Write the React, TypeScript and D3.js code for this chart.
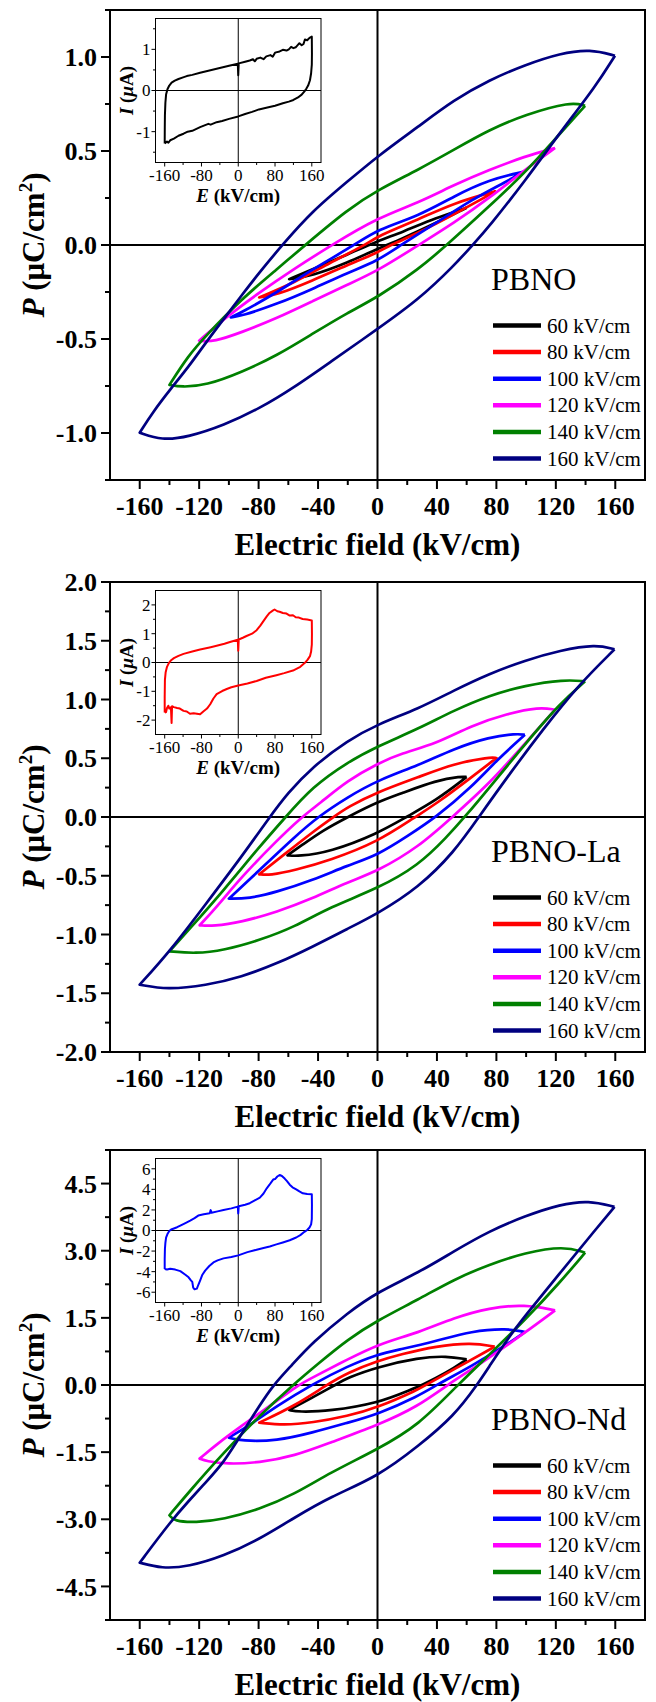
import React from 'react';
import * as d3 from 'd3';

type Pt = [number, number];

// ---------- shared labels / colours ----------
const FIELD_LABELS = ['60 kV/cm', '80 kV/cm', '100 kV/cm', '120 kV/cm', '140 kV/cm', '160 kV/cm'];
const SERIES_COLORS = ['#000000', '#FF0000', '#0000FF', '#FF00FF', '#008000', '#000080'];
const X_TICKS = [-160, -120, -80, -40, 0, 40, 80, 120, 160];
const X_MINOR = [-140, -100, -60, -20, 20, 60, 100, 140];
const INSET_X_TICKS = [-160, -80, 0, 80, 160];
const INSET_X_MINOR = [-120, -40, 40, 120];
const SAMPLE_NAMES = ['PBNO', 'PBNO-La', 'PBNO-Nd'];

// ---------- PBNO P-E loops (E kV/cm, P uC/cm2) ----------
const PBNO_60: Pt[] = [[60, 0.198], [39.6, 0.145], [15.7, 0.065], [0, 0.021], [-20, -0.05], [-43.9, -0.129], [-59.4, -0.182],
  [-43.9, -0.164], [-20, -0.094], [0, -0.02], [15.7, 0.03], [39.6, 0.118], [60, 0.198]];
const PBNO_80: Pt[] = [[79.6, 0.286], [51.5, 0.224], [27.7, 0.136], [0, 0.048], [-8, 0], [-32, -0.094], [-55.8, -0.2], [-79.6, -0.279],
  [-67.7, -0.265], [-43.9, -0.19], [-20, -0.105], [0, -0.041], [8.6, 0], [27.7, 0.065], [51.5, 0.163], [79.6, 0.286]];
const PBNO_100: Pt[] = [[98, 0.389], [75.3, 0.348], [51.5, 0.26], [27.7, 0.154], [0, 0.083], [-15.3, 0], [-43.9, -0.129], [-67.7, -0.253], [-91.6, -0.359], [-98.7, -0.385],
  [-91.6, -0.378], [-67.7, -0.314], [-43.9, -0.235], [-20, -0.147], [0, -0.085], [15.7, 0], [39.6, 0.118], [63.4, 0.242], [87.3, 0.339], [98, 0.389]];
const PBNO_120: Pt[] = [[119.5, 0.516], [99.2, 0.472], [75.3, 0.4], [51.5, 0.32], [27.7, 0.225], [0, 0.145], [-30.8, 0], [-55.8, -0.125], [-79.6, -0.253], [-103.5, -0.394], [-120, -0.509],
  [-110, -0.515], [-91.6, -0.465], [-67.7, -0.39], [-43.9, -0.3], [-20, -0.21], [0, -0.138], [27.7, 0], [51.5, 0.118], [75.3, 0.25], [99.2, 0.4], [119.5, 0.516]];
const PBNO_140: Pt[] = [[139.7, 0.74], [130.2, 0.763], [99.2, 0.693], [75.3, 0.613], [51.5, 0.507], [27.7, 0.401], [0, 0.292], [-20, 0.189], [-48.6, 0], [-67.7, -0.129], [-91.6, -0.288], [-115.4, -0.482], [-127.3, -0.588], [-140, -0.744],
  [-132, -0.756], [-115.4, -0.747], [-91.6, -0.677], [-67.7, -0.588], [-43.9, -0.473], [-20, -0.359], [0, -0.279], [27.7, -0.129], [46.7, 0], [75.3, 0.207], [99.2, 0.383], [123, 0.595], [139.7, 0.74]];
const PBNO_160: Pt[] = [[159.8, 1.007], [143.3, 1.042], [123, 1.02], [99.2, 0.958], [75.3, 0.878], [51.5, 0.772], [27.7, 0.631], [0, 0.472], [-20, 0.339], [-43.9, 0.18], [-64.1, 0], [-79.6, -0.147], [-91.6, -0.27], [-103.5, -0.394], [-115.4, -0.518], [-127.3, -0.65], [-139.2, -0.765], [-151.2, -0.889], [-160, -0.998],
  [-145.2, -1.039], [-127.3, -1.021], [-103.5, -0.959], [-79.6, -0.871], [-55.8, -0.756], [-32, -0.624], [0, -0.447], [27.7, -0.29], [51.5, -0.11], [64, 0], [75.3, 0.1], [99.2, 0.34], [123, 0.6], [146.9, 0.845], [159.8, 1.007]];

// ---------- PBNO-La loops ----------
const LA_60: Pt[] = [[60, 0.34], [56.3, 0.346], [39.6, 0.312], [15.7, 0.199], [0, 0.128], [-20, 0], [-36.7, -0.113], [-51, -0.241], [-60.6, -0.326],
  [-53.4, -0.335], [-32, -0.298], [0, -0.142], [19.3, 0], [39.6, 0.142], [60, 0.34]];
const LA_80: Pt[] = [[80.1, 0.502], [75.3, 0.51], [51.5, 0.454], [27.7, 0.34], [0, 0.213], [-20, 0.085], [-29.6, 0], [-43.9, -0.13], [-62.9, -0.32], [-79.6, -0.488],
  [-72.5, -0.496], [-55.8, -0.454], [-32, -0.369], [0, -0.213], [25.3, 0], [39.6, 0.113], [63.4, 0.34], [80.1, 0.502]];
const LA_100: Pt[] = [[99.2, 0.7], [93.2, 0.709], [75.3, 0.681], [51.5, 0.582], [27.7, 0.44], [0, 0.312], [-20, 0.17], [-40.3, 0], [-55.8, -0.17], [-79.6, -0.454], [-100, -0.695],
  [-86.8, -0.695], [-67.7, -0.638], [-43.9, -0.539], [-20, -0.411], [0, -0.326], [20.5, -0.16], [39.6, 0], [63.4, 0.255], [80.1, 0.482], [99.2, 0.7]];
const LA_120: Pt[] = [[119.5, 0.913], [108.7, 0.936], [87.3, 0.879], [63.4, 0.78], [39.6, 0.624], [15.7, 0.54], [0, 0.454], [-20, 0.312], [-39.1, 0.113], [-51, 0], [-67.7, -0.199], [-91.6, -0.511], [-108.2, -0.766], [-119.7, -0.922],
  [-110.6, -0.93], [-91.6, -0.894], [-67.7, -0.809], [-43.9, -0.695], [-20, -0.553], [0, -0.462], [27.7, -0.255], [50.3, 0], [75.3, 0.284], [99.2, 0.624], [119.5, 0.913]];
const LA_140: Pt[] = [[139.7, 1.155], [125.4, 1.17], [99.2, 1.12], [75.3, 1.035], [51.5, 0.908], [27.7, 0.752], [0, 0.601], [-20, 0.468], [-43.9, 0.255], [-61.8, 0], [-79.6, -0.255], [-103.5, -0.624], [-127.3, -0.965], [-140, -1.143],
  [-122.6, -1.163], [-103.5, -1.135], [-79.6, -1.05], [-55.8, -0.936], [-32, -0.766], [0, -0.61], [27.7, -0.411], [46.7, -0.17], [58.7, 0], [75.3, 0.25], [99.2, 0.62], [123, 0.97], [139.7, 1.155]];
const LA_160: Pt[] = [[159.5, 1.427], [146.9, 1.47], [123, 1.418], [99.2, 1.333], [75.3, 1.22], [51.5, 1.078], [27.7, 0.922], [0, 0.789], [-20, 0.652], [-43.9, 0.426], [-60.6, 0.2], [-72.5, 0], [-91.6, -0.34], [-115.4, -0.738], [-139.2, -1.135], [-160, -1.427],
  [-141.6, -1.47], [-115.4, -1.433], [-91.6, -1.362], [-67.7, -1.248], [-43.9, -1.106], [-20, -0.95], [0, -0.823], [27.7, -0.6], [51.5, -0.3], [68.2, 0], [87.3, 0.34], [111, 0.74], [135, 1.12], [159.5, 1.427]];

// ---------- PBNO-Nd loops ----------
const ND_60: Pt[] = [[60, 0.573], [46.7, 0.648], [27.7, 0.611], [0, 0.402], [-20, 0.164], [-28.4, 0], [-43.9, -0.283], [-59.4, -0.558],
  [-53.4, -0.603], [-32, -0.581], [0, -0.41], [22.9, -0.097], [30, 0], [46.7, 0.276], [60, 0.573]];
const ND_80: Pt[] = [[78.9, 0.856], [63.4, 0.946], [39.6, 0.871], [15.7, 0.685], [0, 0.536], [-20, 0.276], [-34.3, 0], [-55.8, -0.469], [-79.6, -0.841],
  [-62.9, -0.9], [-43.9, -0.841], [-20, -0.692], [0, -0.506], [27.7, -0.097], [32.4, 0], [51.5, 0.35], [78.9, 0.856]];
const ND_100: Pt[] = [[99.2, 1.184], [87.3, 1.266], [63.4, 1.206], [39.6, 0.983], [15.7, 0.797], [0, 0.685], [-20, 0.424], [-43.9, 0.015], [-67.7, -0.469], [-86.8, -0.916], [-100, -1.176],
  [-91.6, -1.25], [-67.7, -1.25], [-43.9, -1.065], [-20, -0.841], [0, -0.655], [27.7, -0.246], [39.6, 0], [63.4, 0.424], [87.3, 0.908], [99.2, 1.184]];
const ND_120: Pt[] = [[119.5, 1.668], [99.2, 1.8], [75.3, 1.727], [51.5, 1.504], [27.7, 1.169], [0, 0.908], [-20, 0.573], [-43.9, 0.164], [-53.4, 0], [-72.5, -0.469], [-91.6, -0.916], [-108.2, -1.325], [-119.7, -1.645],
  [-115.4, -1.7], [-101.1, -1.77], [-79.6, -1.735], [-55.8, -1.586], [-32, -1.288], [0, -0.9], [27.7, -0.469], [46.7, 0], [70.6, 0.5], [99.2, 1.169], [119.5, 1.668]];
const ND_140: Pt[] = [[139.7, 2.956], [125.4, 3.105], [99.2, 2.956], [75.3, 2.695], [51.5, 2.36], [27.7, 1.914], [0, 1.445], [-20, 1.02], [-39.1, 0.5], [-57, 0], [-79.6, -0.69], [-103.5, -1.51], [-127.3, -2.405], [-140, -2.91],
  [-136.9, -3.04], [-122.6, -3.075], [-103.5, -3.0], [-79.6, -2.78], [-55.8, -2.44], [-32, -1.96], [0, -1.437], [27.7, -0.9], [53.9, 0], [75.3, 0.68], [99.2, 1.45], [123, 2.3], [139.7, 2.956]];
const ND_160: Pt[] = [[159.5, 3.98], [142.1, 4.125], [123, 4.036], [99.2, 3.775], [75.3, 3.44], [51.5, 2.99], [27.7, 2.51], [0, 2.077], [-20, 1.616], [-43.9, 0.946], [-58.2, 0.424], [-70.1, 0], [-79.6, -0.469], [-91.6, -1.1], [-103.5, -1.735], [-115.4, -2.17], [-127.3, -2.6], [-139.2, -3.05], [-160, -3.97],
  [-145.2, -4.1], [-127.3, -4.06], [-103.5, -3.82], [-79.6, -3.45], [-55.8, -2.96], [-32, -2.5], [0, -2.05], [27.7, -1.36], [51.5, -0.69], [67, 0], [75.3, 0.42], [87.3, 1.02], [99.2, 1.54], [123, 2.51], [146.9, 3.48], [159.5, 3.98]];

// ---------- inset I-E loops (E kV/cm, I uA) ----------
const PBNO_IE: Pt[] = [[-160, -1.29], [-159.8, -0.9], [-159.5, -0.6], [-158.5, -0.3], [-157, -0.1], [-154, 0.03], [-150, 0.12], [-145, 0.19], [-138, 0.24], [-130, 0.28], [-120, 0.32], [-112, 0.35], [-100, 0.38], [-83, 0.43], [-65, 0.48], [-47, 0.53], [-20, 0.6], [-1, 0.65], [0, 0.37], [1, 0.66],
  [15, 0.7], [25, 0.73], [32, 0.76], [36, 0.71], [40, 0.77], [48, 0.8], [55, 0.76], [61, 0.83], [70, 0.86], [75, 0.82], [80, 0.92], [90, 0.95], [97, 0.99], [105, 0.97], [110, 1.0], [115, 1.06], [120, 1.03], [125, 1.05], [133, 1.15], [138, 1.1], [142, 1.13], [145, 1.24], [150, 1.22], [155, 1.28], [160, 1.31],
  [160.3, 0.9], [160, 0.63], [158.5, 0.42], [156, 0.25], [152, 0.12], [148, 0.04], [144, -0.02], [138, -0.1], [130, -0.17], [120, -0.23], [110, -0.27], [97, -0.31], [80, -0.37], [61, -0.42], [45, -0.46], [30, -0.52], [15, -0.57], [0, -0.63], [-20, -0.69], [-35, -0.74], [-47, -0.77], [-60, -0.83], [-65, -0.81], [-83, -0.89], [-100, -0.98], [-110, -1.0], [-119, -1.05], [-130, -1.1], [-140, -1.17], [-148, -1.21], [-152, -1.27], [-155, -1.24], [-160, -1.29]];
const LA_IE: Pt[] = [[-160, -1.74], [-160, -1.2], [-159.5, -0.6], [-158, -0.35], [-155, -0.15], [-151, -0.02], [-146, 0.08], [-140, 0.15], [-130, 0.23], [-119, 0.3], [-100, 0.38], [-83, 0.45], [-60, 0.53], [-47, 0.58], [-30, 0.65], [-18, 0.71], [-1, 0.79], [0, 0.41], [1, 0.8],
  [10, 0.86], [18, 0.92], [30, 1.0], [40, 1.12], [48, 1.28], [54, 1.42], [62, 1.6], [68, 1.72], [75, 1.8], [79, 1.84], [85, 1.78], [90, 1.76], [97, 1.72], [105, 1.7], [112, 1.63], [119, 1.64], [125, 1.57], [132, 1.56], [140, 1.51], [150, 1.49], [160, 1.46],
  [160.3, 1.0], [160, 0.62], [158.5, 0.38], [156, 0.22], [151, 0.1], [145, -0.01], [135, -0.15], [119, -0.28], [100, -0.37], [83, -0.44], [60, -0.53], [40, -0.64], [20, -0.73], [0, -0.8], [-15, -0.86], [-25, -0.92], [-35, -0.99], [-47, -1.1], [-54, -1.25], [-61, -1.45], [-68, -1.6], [-76, -1.7], [-83, -1.8], [-90, -1.78], [-97, -1.76], [-105, -1.78], [-112, -1.7], [-119, -1.68], [-127, -1.6], [-133, -1.58], [-140, -1.55], [-144, -1.52], [-145, -2.1], [-146.5, -1.55], [-150, -1.6], [-152, -1.5], [-155, -1.58], [-157, -1.72], [-160, -1.74]];
const ND_IE: Pt[] = [[-160, -3.74], [-160, -2.8], [-159.5, -1.8], [-158.5, -1.2], [-157, -0.7], [-154, -0.35], [-150, -0.05], [-146, 0.1], [-140, 0.2], [-133, 0.32], [-126, 0.48], [-115, 0.72], [-104.5, 0.96], [-95, 1.2], [-87, 1.45], [-75, 1.58], [-62, 1.68], [-60, 1.98], [-58, 1.72], [-45, 1.86], [-32, 2.0], [-15, 2.15], [-1, 2.32], [0, 1.65], [1, 2.35],
  [15, 2.5], [25, 2.65], [35, 2.9], [47, 3.2], [55, 3.6], [62, 4.1], [68, 4.45], [72, 4.7], [76, 4.95], [80, 5.0], [85, 5.25], [90, 5.4], [95, 5.3], [101, 5.05], [106, 4.8], [112, 4.45], [118, 4.2], [126, 4.0], [133, 3.8], [140.5, 3.62], [150, 3.55], [160, 3.52],
  [160.3, 2.5], [160, 1.1], [158.5, 0.6], [155, 0.29], [150, 0.05], [144, -0.13], [135, -0.45], [126, -0.68], [112, -0.95], [97, -1.16], [83, -1.35], [68.5, -1.55], [55, -1.7], [40, -1.87], [20, -2.1], [0, -2.42], [-15, -2.58], [-32, -2.71], [-45, -2.9], [-54, -3.1], [-63, -3.45], [-72, -3.9], [-78, -4.3], [-83, -4.87], [-87, -5.3], [-90, -5.65], [-95, -5.72], [-98, -5.55], [-100, -5.0], [-103, -4.85], [-108, -4.55], [-115, -4.3], [-126, -3.95], [-137, -3.8], [-148, -3.72], [-155, -3.8], [-160, -3.74]];

// ---------- y ticks per panel ----------
const PBNO_Y_TICKS = [-1.0, -0.5, 0.0, 0.5, 1.0];
const PBNO_Y_MINOR = [-1.25, -0.75, -0.25, 0.25, 0.75, 1.25];
const LA_Y_TICKS = [-2.0, -1.5, -1.0, -0.5, 0.0, 0.5, 1.0, 1.5, 2.0];
const LA_Y_MINOR = [-1.75, -1.25, -0.75, -0.25, 0.25, 0.75, 1.25, 1.75];
const ND_Y_TICKS = [-4.5, -3.0, -1.5, 0.0, 1.5, 3.0, 4.5];
const ND_Y_MINOR = [-5.25, -3.75, -2.25, -0.75, 0.75, 2.25, 3.75, 5.25];
const PBNO_INSET_Y = [-1, 0, 1];
const PBNO_INSET_MINOR = [-1.5, -0.5, 0.5, 1.5];
const LA_INSET_Y = [-2, -1, 0, 1, 2];
const LA_INSET_MINOR = [-1.5, -0.5, 0.5, 1.5];
const ND_INSET_Y = [-6, -4, -2, 0, 2, 4, 6];
const ND_INSET_MINOR = [-5, -3, -1, 1, 3, 5];

const FONT = "'Liberation Serif','Times New Roman',Times,serif";

interface PanelCfg {
  top: number;
  yDomain: [number, number];
  yTicks: number[];
  yMinor: number[];
  loops: Pt[][];
  name: string;
  inset: Pt[];
  insetColor: string;
  insetDomain: [number, number];
  insetTicks: number[];
  insetMinor: number[];
}

const PANELS: PanelCfg[] = [
  { top: 10, yDomain: [-1.25, 1.25], yTicks: PBNO_Y_TICKS, yMinor: PBNO_Y_MINOR, loops: [PBNO_60, PBNO_80, PBNO_100, PBNO_120, PBNO_140, PBNO_160], name: SAMPLE_NAMES[0], inset: PBNO_IE, insetColor: '#000000', insetDomain: [-1.75, 1.75], insetTicks: PBNO_INSET_Y, insetMinor: PBNO_INSET_MINOR },
  { top: 582, yDomain: [-2, 2], yTicks: LA_Y_TICKS, yMinor: LA_Y_MINOR, loops: [LA_60, LA_80, LA_100, LA_120, LA_140, LA_160], name: SAMPLE_NAMES[1], inset: LA_IE, insetColor: '#FF0000', insetDomain: [-2.5, 2.5], insetTicks: LA_INSET_Y, insetMinor: LA_INSET_MINOR },
  { top: 1150, yDomain: [-5.25, 5.25], yTicks: ND_Y_TICKS, yMinor: ND_Y_MINOR, loops: [ND_60, ND_80, ND_100, ND_120, ND_140, ND_160], name: SAMPLE_NAMES[2], inset: ND_IE, insetColor: '#0000FF', insetDomain: [-7, 7], insetTicks: ND_INSET_Y, insetMinor: ND_INSET_MINOR },
];

const LEFT = 110, RIGHT = 645, PH = 470;
const IN_L = 155.5, IN_R = 321, IN_OFF = 8.5, IN_H = 144;

// repeat the two turning tips so the B-spline passes through them as sharp corners
function withTips(d: Pt[]): Pt[] {
  let k = 0;
  d.forEach((p, i) => { if (p[0] < d[k][0]) k = i; });
  const n = d.length - 1;
  return [d[0], d[0], ...d.slice(0, k), d[k], d[k], ...d.slice(k), d[n], d[n]];
}

function Panel({ cfg }: { cfg: PanelCfg }) {
  const top = cfg.top, bottom = top + PH;
  const x = d3.scaleLinear().domain([-180, 180]).range([LEFT, RIGHT]);
  const y = d3.scaleLinear().domain(cfg.yDomain).range([bottom, top]);
  const line = d3.line<Pt>().x(d => x(d[0])).y(d => y(d[1])).curve(d3.curveBasis);

  const iTop = top + IN_OFF, iBot = iTop + IN_H;
  const ix = d3.scaleLinear().domain([-180, 180]).range([IN_L, IN_R]);
  const iy = d3.scaleLinear().domain(cfg.insetDomain).range([iBot, iTop]);
  const iline = d3.line<Pt>().x(d => ix(d[0])).y(d => iy(d[1])).curve(d3.curveLinear);
  const mid = (top + bottom) / 2;
  const fmt = (v: number) => v.toFixed(1);

  return (
    <g>
      {/* zero lines */}
      <line x1={LEFT} x2={RIGHT} y1={y(0)} y2={y(0)} stroke="#000" strokeWidth={2} />
      <line x1={x(0)} x2={x(0)} y1={top} y2={bottom} stroke="#000" strokeWidth={2} />
      {/* loops */}
      {cfg.loops.map((d, i) => (
        <path key={i} d={line(withTips(d)) || ''} fill="none" stroke={SERIES_COLORS[i]} strokeWidth={2.7} strokeLinejoin="round" />
      ))}
      {/* inset */}
      <rect x={IN_L} y={iTop} width={IN_R - IN_L} height={IN_H} fill="#fff" stroke="none" />
      <line x1={IN_L} x2={IN_R} y1={iy(0)} y2={iy(0)} stroke="#000" strokeWidth={1} />
      <line x1={ix(0)} x2={ix(0)} y1={iTop} y2={iBot} stroke="#000" strokeWidth={1} />
      <path d={iline(cfg.inset) || ''} fill="none" stroke={cfg.insetColor} strokeWidth={2} strokeLinejoin="round" />
      <rect x={IN_L} y={iTop} width={IN_R - IN_L} height={IN_H} fill="none" stroke="#000" strokeWidth={1} />
      {INSET_X_TICKS.map(t => (
        <g key={'ixt' + t}>
          <line x1={ix(t)} x2={ix(t)} y1={iBot} y2={iBot + 4} stroke="#000" strokeWidth={1} />
          <text x={ix(t)} y={iBot + 18.5} textAnchor="middle" fontSize={17} fontFamily={FONT}>{t}</text>
        </g>
      ))}
      {INSET_X_MINOR.map(t => (
        <line key={'ixm' + t} x1={ix(t)} x2={ix(t)} y1={iBot} y2={iBot + 2.5} stroke="#000" strokeWidth={1} />
      ))}
      {cfg.insetTicks.map(t => (
        <g key={'iyt' + t}>
          <line x1={IN_L - 4} x2={IN_L} y1={iy(t)} y2={iy(t)} stroke="#000" strokeWidth={1} />
          <text x={IN_L - 5} y={iy(t)} dy="0.35em" textAnchor="end" fontSize={17} fontFamily={FONT}>{t}</text>
        </g>
      ))}
      {cfg.insetMinor.map(t => (
        <line key={'iym' + t} x1={IN_L - 2.5} x2={IN_L} y1={iy(t)} y2={iy(t)} stroke="#000" strokeWidth={1} />
      ))}
      <text x={(IN_L + IN_R) / 2} y={iBot + 39} textAnchor="middle" fontSize={19} fontWeight="bold" fontFamily={FONT}>
        <tspan fontStyle="italic">E</tspan>{' (kV/cm)'}
      </text>
      <text transform={`translate(133, ${(iTop + iBot) / 2}) rotate(-90)`} textAnchor="middle" fontSize={19} fontWeight="bold" fontFamily={FONT}>
        <tspan fontStyle="italic">I</tspan>{' ('}<tspan fontStyle="italic">μ</tspan>{'A)'}
      </text>

      {/* main frame */}
      <rect x={LEFT} y={top} width={RIGHT - LEFT} height={PH} fill="none" stroke="#000" strokeWidth={2} />
      {/* x ticks */}
      {X_TICKS.map(t => (
        <g key={'xt' + t}>
          <line x1={x(t)} x2={x(t)} y1={bottom} y2={bottom + 9} stroke="#000" strokeWidth={2} />
          <text x={x(t)} y={bottom + 35} textAnchor="middle" fontSize={26} fontWeight="bold" fontFamily={FONT}>{t}</text>
        </g>
      ))}
      {X_MINOR.map(t => (
        <line key={'xm' + t} x1={x(t)} x2={x(t)} y1={bottom} y2={bottom + 5} stroke="#000" strokeWidth={2} />
      ))}
      {/* y ticks */}
      {cfg.yTicks.map(t => (
        <g key={'yt' + t}>
          <line x1={LEFT - 9} x2={LEFT} y1={y(t)} y2={y(t)} stroke="#000" strokeWidth={2} />
          <text x={97} y={y(t)} dy="0.35em" textAnchor="end" fontSize={26} fontWeight="bold" fontFamily={FONT}>{fmt(t)}</text>
        </g>
      ))}
      {cfg.yMinor.map(t => (
        <line key={'ym' + t} x1={LEFT - 5} x2={LEFT} y1={y(t)} y2={y(t)} stroke="#000" strokeWidth={2} />
      ))}
      {/* axis titles */}
      <text x={(LEFT + RIGHT) / 2} y={bottom + 75} textAnchor="middle" fontSize={31} fontWeight="bold" fontFamily={FONT}>Electric field (kV/cm)</text>
      <text transform={`translate(44, ${mid}) rotate(-90)`} textAnchor="middle" fontSize={31} fontWeight="bold" fontFamily={FONT}>
        <tspan fontStyle="italic">P</tspan>{' (μC/cm'}<tspan dy={-12} fontSize={19}>2</tspan><tspan dy={12}>)</tspan>
      </text>
      {/* legend */}
      <text x={491} y={top + 280} fontSize={32} fontFamily={FONT}>{cfg.name}</text>
      {FIELD_LABELS.map((lab, i) => {
        const cy = top + 315.5 + i * 26.6;
        return (
          <g key={lab}>
            <line x1={493} x2={541} y1={cy} y2={cy} stroke={SERIES_COLORS[i]} strokeWidth={4.5} />
            <text x={547} y={cy + 7} fontSize={21} fontFamily={FONT}>{lab}</text>
          </g>
        );
      })}
    </g>
  );
}

export default function App() {
  return (
    <svg width={656} height={1702} style={{ position: 'absolute', left: 0, top: 0, background: '#fff' }}>
      <rect x={0} y={0} width={656} height={1702} fill="#fff" />
      {PANELS.map((p, i) => <Panel key={i} cfg={p} />)}
    </svg>
  );
}
